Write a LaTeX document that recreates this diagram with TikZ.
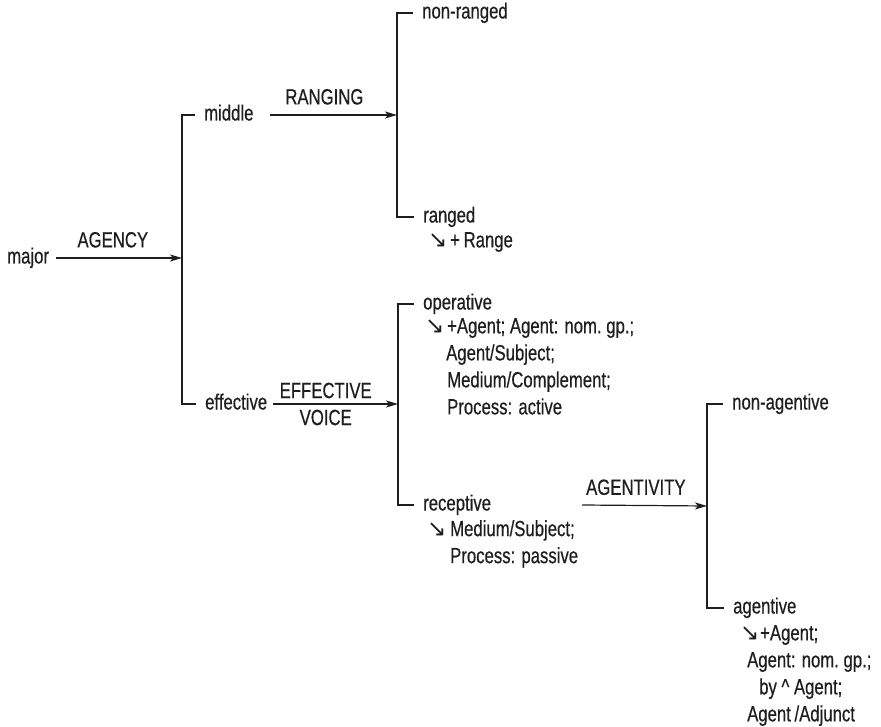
\documentclass[tikz,border=0pt]{standalone}
\usepackage{fontspec}
\setmainfont{Liberation Sans}[FakeStretch=0.76,FakeBold=0.5]
\newfontfamily\arrowfont{DejaVu Sans}[Scale=1.05]
\usetikzlibrary{arrows.meta,positioning,calc}
\newcommand\sw[1][22pt]{\makebox[#1][l]{\arrowfont ↘}}

\begin{document}
\begin{tikzpicture}[x=1pt,y=-1pt,
    >={Stealth[length=12pt,width=7pt,inset=3pt]},
    font=\fontsize{22}{27}\selectfont,
    term/.style={inner sep=0pt,anchor=west,text height=16pt,text depth=5pt,text=ink},
    sysname/.style={inner sep=0pt,text height=16pt,text depth=5pt,text=ink},
    feat/.style={inner sep=0pt,anchor=north west,align=left,text=ink},
    bracket/.style={draw=ink,line width=1.2pt},
    arr/.style={draw=ink,line width=1.2pt,->},
]
\definecolor{ink}{RGB}{30,30,30}
\useasboundingbox (0,0) rectangle (881,727);

% ================= AGENCY: major -> middle / effective =================
\node[term] (major) at (7,258) {major};
\node[term] (middle) at (204,115) {middle};
\node[term] (effective) at (205,404) {effective};
\coordinate (b1) at (182,258);
\draw[arr] ([xshift=7pt]major.east) -- (b1) node[sysname,pos=0.45,above=5pt] (agency) {AGENCY};
\draw[bracket] ([xshift=-9pt]middle.west) -| (b1) |- ([xshift=-9pt]effective.west);

% ================= RANGING: middle -> non-ranged / ranged =================
\node[term] (nonranged) at (422,13) {non-ranged};
\node[term] (ranged) at (423,217) {ranged};
\node[feat] (rangedf) at (428,232) {\sw[22pt]+\,Range};
\coordinate (b2) at (397,115);
\draw[arr] ([xshift=16pt]middle.east) -- (b2) node[sysname,pos=0.43,above=5pt] (ranging) {RANGING};
\draw[bracket] ([xshift=-9pt]nonranged.west) -| (b2) |- ([xshift=-9pt]ranged.west);

% ================= EFFECTIVE VOICE: effective -> operative / receptive =================
\node[term] (operative) at (423,304) {operative};
\node[feat] (operativef) at (425,318) {\sw +Agent; Agent: nom.\ gp.;\\
  \hspace*{21pt}Agent/Subject;\\
  \hspace*{22pt}Medium/Complement;\\
  \hspace*{22pt}Process: active};
\node[term] (receptive) at (423,505) {receptive};
\node[feat] (receptivef) at (427,520) {\sw[23pt]Medium/Subject;\\
  \hspace*{23pt}Process: passive};
\coordinate (b3) at (398,404);
\draw[arr] ([xshift=6pt]effective.east) -- (b3) node[inner sep=0pt,align=center,text=ink,pos=0.42] (effvoice) {EFFECTIVE\\VOICE};
\draw[bracket] ([xshift=-9pt]operative.west) -| (b3) |- ([xshift=-9pt]receptive.west);

% ================= AGENTIVITY: receptive -> non-agentive / agentive =================
\node[term] (nonagentive) at (732,404) {non-agentive};
\node[term] (agentive) at (733,608) {agentive};
\node[feat] (agentivef) at (740,625) {\sw[20pt]+Agent;\\
  \hspace*{7pt}Agent: nom.\ gp.;\\
  \hspace*{19pt}by \textasciicircum\ Agent;\\
  \hspace*{7pt}Agent\,/Adjunct};
\coordinate (b4) at (707,506);
\draw[arr] ([xshift=91pt]receptive.east) -- (b4) node[sysname,pos=0.43,above=5pt] (agentivity) {AGENTIVITY};
\draw[bracket] ([xshift=-9pt]nonagentive.west) -| (b4) |- ([xshift=-9pt]agentive.west);

\end{tikzpicture}
\end{document}
